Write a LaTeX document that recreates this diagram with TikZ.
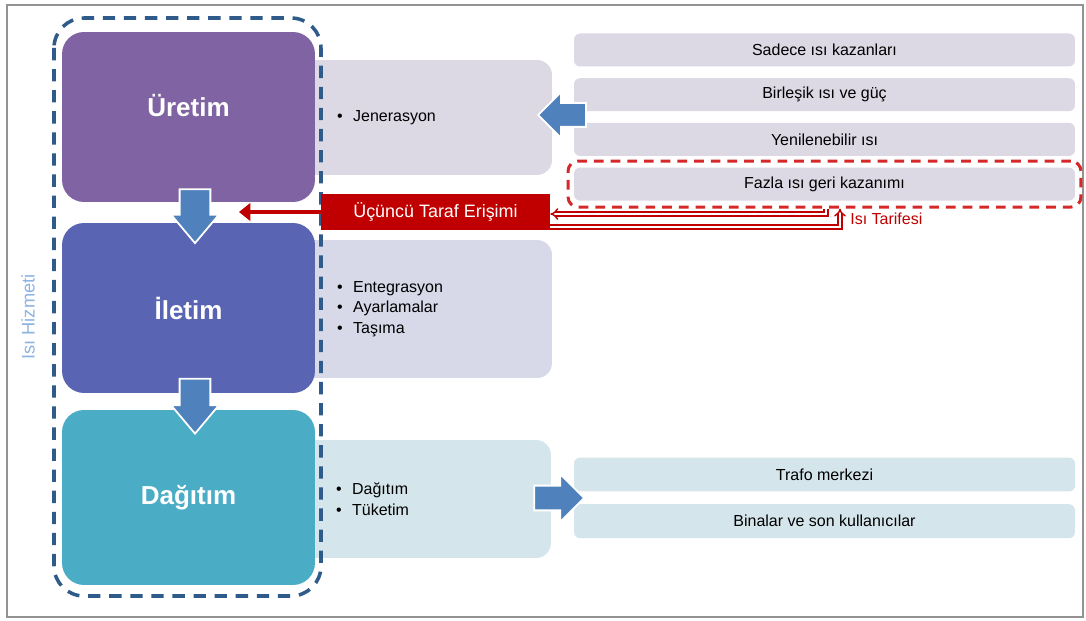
\documentclass[tikz,border=0pt]{standalone}
\usepackage{fontspec}
\setmainfont{Liberation Sans}
\usetikzlibrary{positioning,shapes.arrows,arrows.meta}

\definecolor{uretimmor}{RGB}{128,99,162}
\definecolor{iletimmavi}{RGB}{89,101,178}
\definecolor{dagitimcyan}{RGB}{75,172,198}
\definecolor{okmavi}{RGB}{79,129,189}
\definecolor{hizmetmavi}{RGB}{46,91,138}
\definecolor{hizmetyazi}{RGB}{141,179,226}
\definecolor{lavanta}{RGB}{221,217,228}
\definecolor{lavanta2}{RGB}{215,216,232}
\definecolor{acikmavi}{RGB}{213,229,236}
\definecolor{kirmizi}{RGB}{192,0,0}
\definecolor{kesikkirmizi}{RGB}{214,40,40}

\newcommand{\madde}{\textbullet\hspace{6pt}}

\tikzset{
  asama/.style={rounded corners=0.44cm, minimum width=5.06cm, minimum height=3.4cm,
    text=white, font=\fontsize{14.8}{17}\selectfont\bfseries},
  panel/.style={rounded corners=0.3cm, text width=3.56cm, inner xsep=0.74cm,
    align=left, font=\fontsize{9.1}{11.6}\selectfont},
  kutu/.style={rounded corners=0.12cm, minimum width=10.02cm, minimum height=0.66cm,
    font=\fontsize{9.1}{11}\selectfont},
  okblok/.style={single arrow, fill=okmavi, draw=white, line width=1pt, inner xsep=0pt},
  tarife/.style={draw=kirmizi, double=white, double distance=1.4pt, line width=0.8pt, -{Implies[scale=1.4]}}
}

\begin{document}
\begin{tikzpicture}[x=0.02cm, y=-0.02cm]
\useasboundingbox[fill=white] (0,0) rectangle (1086,621);
\draw[gray!85, line width=1.2pt] (7,5) rectangle (1083,617);

\node[panel, fill=lavanta, minimum width=5.04cm, minimum height=2.3cm] (jenpanel) at (426,117.5) {\madde Jenerasyon};
\node[panel, fill=lavanta2, minimum width=5.04cm, minimum height=2.76cm] (iletpanel) at (426,309) {\madde Entegrasyon\\ \madde Ayarlamalar\\ \madde Taşıma};
\node[panel, fill=acikmavi, minimum width=5.0cm, minimum height=2.36cm] (dagpanel) at (425,499) {\madde Dağıtım\\ \madde Tüketim};

\node[asama, fill=uretimmor] (uretim) at (188.5,117) {\raisebox{0.46cm}{Üretim}};
\node[asama, fill=iletimmavi] (iletim) at (188.5,308) {İletim};
\node[asama, fill=dagitimcyan, minimum height=3.5cm] (dagitim) at (188.5,497.5) {Dağıtım};

\draw[hizmetmavi, line width=2pt, dash pattern=on 7pt off 5pt, rounded corners=0.6cm] (54,18) rectangle (321,596);
\node[rotate=90, text=hizmetyazi, font=\fontsize{10.4}{12}\selectfont] (hizmet) at (28,317) {Isı Hizmeti};

\node[kutu, fill=lavanta] (sadece) at (824.5,50) {Sadece ısı kazanları};
\node[kutu, fill=lavanta, below=0.22cm of sadece] (birlesik) {Birleşik ısı ve güç};
\node[kutu, fill=lavanta, below=0.22cm of birlesik] (yenilenebilir) {Yenilenebilir ısı};
\node[kutu, fill=lavanta, below=0.22cm of yenilenebilir] (fazla) {Fazla ısı geri kazanımı};
\node[draw=kesikkirmizi, line width=1.7pt, dash pattern=on 5.5pt off 4pt, rounded corners=0.2cm,
  minimum width=10.26cm, minimum height=0.92cm] (fazlacerceve) at (fazla) {};

\node[kutu, fill=acikmavi, minimum height=0.68cm] (trafo) at (824.5,474.5) {Trafo merkezi};
\node[kutu, fill=acikmavi, minimum height=0.68cm, below=0.24cm of trafo] (binalar) {Binalar ve son kullanıcılar};

\node[okblok, rotate=-90, minimum height=1.08cm, inner ysep=0.29cm, single arrow head extend=0.17cm, single arrow tip angle=80] (ok1) at (195,207) {};
\node[okblok, rotate=-90, minimum height=1.1cm, inner ysep=0.29cm, single arrow head extend=0.17cm, single arrow tip angle=80] (ok2) at (195,397) {};
\node[okblok, rotate=180, minimum height=0.96cm, inner ysep=0.22cm, single arrow head extend=0.22cm] (ok3) at (568,115) {};
\node[okblok, minimum height=1.0cm, inner ysep=0.23cm, single arrow head extend=0.23cm] (ok4) at (553,498) {};

\node[fill=kirmizi, text=white, minimum width=4.58cm, minimum height=0.72cm,
  font=\fontsize{10.2}{12}\selectfont] (ucuncu) at (435.5,212) {Üçüncü Taraf Erişimi};
\coordinate (ucuncuuc) at (239,212);
\draw[kirmizi, line width=2.2pt, -{Triangle[width=10pt,length=6.5pt]}] (ucuncu.west) -- (ucuncuuc);

\coordinate (tarifust) at (826,214);
\coordinate (tarifalt) at (840,227);
\draw[tarife] (fazlacerceve.south -| tarifust) -- (tarifust) -- (tarifust -| ucuncu.east);
\draw[tarife] (tarifalt -| ucuncu.east) -- (tarifalt) -- (tarifalt |- fazlacerceve.south);
\node[anchor=west, inner sep=0pt, text=kirmizi, font=\fontsize{9.1}{11}\selectfont] (tarife) at (850,219) {Isı Tarifesi};
\end{tikzpicture}
\end{document}
